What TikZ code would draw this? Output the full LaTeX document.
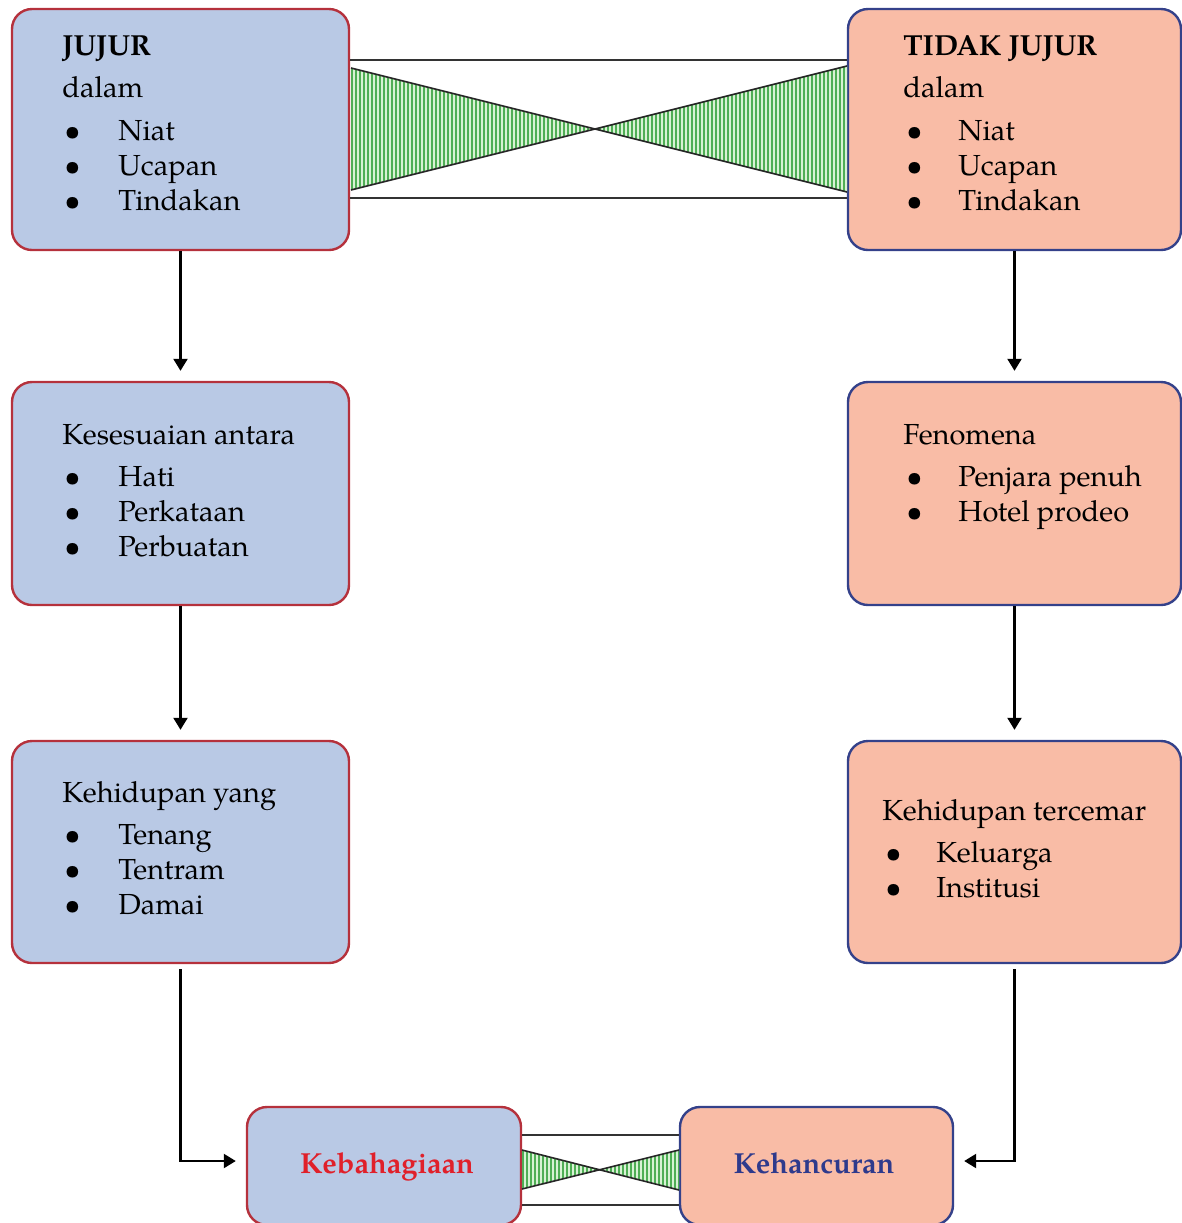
\documentclass[tikz,border=0pt]{standalone}
\usepackage{fontspec}
\setmainfont{TeX Gyre Pagella}
\usetikzlibrary{arrows.meta,calc}
\definecolor{bluefill}{HTML}{B9C9E5}
\definecolor{salmonfill}{HTML}{F9BCA6}
\definecolor{redline}{HTML}{B5313C}
\definecolor{blueline}{HTML}{34418A}
\definecolor{kebred}{HTML}{E0202A}
\definecolor{kehblue}{HTML}{2E3A8C}
\definecolor{stripebg}{HTML}{D8F2D4}
\definecolor{stripe}{HTML}{4FAE55}
\begin{document}
\begin{tikzpicture}[x=0.5pt,y=-0.5pt,
  boxL/.style={draw=redline, fill=bluefill, line width=1.2pt, rounded corners=10pt, inner sep=0pt},
  boxR/.style={draw=blueline, fill=salmonfill, line width=1.2pt, rounded corners=10pt, inner sep=0pt},
  txt/.style={anchor=base west, inner sep=0pt, font=\fontsize{14.5}{17}\selectfont},
  btxt/.style={txt, font=\fontsize{14.5}{17}\selectfont\bfseries},
  ctxt/.style={anchor=base, inner sep=0pt, font=\fontsize{14.5}{17}\selectfont\bfseries},
  arr/.style={line width=1.1pt, -{Triangle[width=7pt,length=6pt]}},
  conn/.style={line width=0.9pt, draw=black!80},
  diag/.style={line width=0.8pt, draw=black!85},
  stripes/.style={line width=1pt, draw=stripe}]
\useasboundingbox (0,0) rectangle (1182,1223);

% boxes
\node[boxL, minimum width=168.5pt, minimum height=120.5pt] (l1) at (180.5,129.5) {};
\node[boxL, minimum width=168.5pt, minimum height=111.5pt] (l2) at (180.5,493.5) {};
\node[boxL, minimum width=168.5pt, minimum height=111pt] (l3) at (180.5,852) {};
\node[boxR, minimum width=166.5pt, minimum height=120.5pt] (r1) at (1014.5,129.5) {};
\node[boxR, minimum width=166.5pt, minimum height=111.5pt] (r2) at (1014.5,493.5) {};
\node[boxR, minimum width=166.5pt, minimum height=111pt] (r3) at (1014.5,852) {};
\node[boxL, minimum width=137pt, minimum height=59pt] (keb) at (384,1166) {};
\node[boxR, minimum width=136.5pt, minimum height=59pt] (keh) at (816.5,1166) {};
\node[ctxt, text=kebred] (kebt) at (387,1173) {Kebahagiaan};
\node[ctxt, text=kehblue] (keht) at (814,1173) {Kehancuran};

% top connector
\draw[conn] (l1.east |- 0,60) -- (r1.west |- 0,60);
\draw[conn] (l1.east |- 0,198) -- (r1.west |- 0,198);
\coordinate (tA) at (351,68);
\coordinate (tB) at (351,190);
\coordinate (tC) at (595,129);
\coordinate (tD) at (847,66);
\coordinate (tE) at (847,192);
\begin{scope}
  \clip (tA) -- (tB) -- (tC) -- cycle (tD) -- (tE) -- (tC) -- cycle;
  \fill[stripebg] (349,60) rectangle (849,200);
  \foreach \x in {352,356,...,848} \draw[stripes] (\x,60) -- (\x,200);
\end{scope}
\draw[diag] (tA) -- (tE);
\draw[diag] (tB) -- (tD);

% bottom connector
\draw[conn] (keb.east |- 0,1135) -- (keh.west |- 0,1135);
\draw[conn] (keb.east |- 0,1205) -- (keh.west |- 0,1205);
\coordinate (bA) at (522,1150);
\coordinate (bB) at (522,1189);
\coordinate (bC) at (600,1170);
\coordinate (bD) at (679,1150);
\coordinate (bE) at (679,1190);
\begin{scope}
  \clip (bA) -- (bB) -- (bC) -- cycle (bD) -- (bE) -- (bC) -- cycle;
  \fill[stripebg] (520,1140) rectangle (682,1200);
  \foreach \x in {523,527,...,679} \draw[stripes] (\x,1140) -- (\x,1200);
\end{scope}
\draw[diag] (bA) -- (bE);
\draw[diag] (bB) -- (bD);

% arrows
\draw[arr, shorten >=5pt] (l1.south) -- (l2.north);
\draw[arr, shorten >=5pt] (l2.south) -- (l3.north);
\draw[arr, shorten >=5pt] (r1.south) -- (r2.north);
\draw[arr, shorten >=5pt] (r2.south) -- (r3.north);
\draw[arr, shorten <=2.5pt, shorten >=5pt] (l3.south) |- ([yshift=2.5pt]keb.west);
\draw[arr, shorten <=2.5pt, shorten >=5pt] (r3.south) |- ([yshift=2.5pt]keh.east);

% texts left 1
\node[btxt] (a0) at (62,55) {JUJUR};
\node[txt] (a1) at (62,97) {dalam};
\node[txt] (a2b) at (64,140) {\textbullet};
\node[txt] (a2) at (118,140) {Niat};
\node[txt] (a3b) at (64,175) {\textbullet};
\node[txt] (a3) at (118,175) {Ucapan};
\node[txt] (a4b) at (64,210) {\textbullet};
\node[txt] (a4) at (118,210) {Tindakan};

% texts left 2
\node[txt] (b1) at (62,444) {Kesesuaian antara};
\node[txt] (b2b) at (64,486) {\textbullet};
\node[txt] (b2) at (118,486) {Hati};
\node[txt] (b3b) at (64,521) {\textbullet};
\node[txt] (b3) at (118,521) {Perkataan};
\node[txt] (b4b) at (64,556) {\textbullet};
\node[txt] (b4) at (118,556) {Perbuatan};

% texts left 3
\node[txt] (c1) at (62,802) {Kehidupan yang};
\node[txt] (c2b) at (64,844) {\textbullet};
\node[txt] (c2) at (118,844) {Tenang};
\node[txt] (c3b) at (64,879) {\textbullet};
\node[txt] (c3) at (118,879) {Tentram};
\node[txt] (c4b) at (64,914) {\textbullet};
\node[txt] (c4) at (118,914) {Damai};

% texts right 1
\node[btxt] (d0) at (903,55) {TIDAK JUJUR};
\node[txt] (d1) at (903,97) {dalam};
\node[txt] (d2b) at (906,140) {\textbullet};
\node[txt] (d2) at (958,140) {Niat};
\node[txt] (d3b) at (906,175) {\textbullet};
\node[txt] (d3) at (958,175) {Ucapan};
\node[txt] (d4b) at (906,210) {\textbullet};
\node[txt] (d4) at (958,210) {Tindakan};

% texts right 2
\node[txt] (e1) at (903,444) {Fenomena};
\node[txt] (e2b) at (906,486) {\textbullet};
\node[txt] (e2) at (958,486) {Penjara penuh};
\node[txt] (e3b) at (906,521) {\textbullet};
\node[txt] (e3) at (958,521) {Hotel prodeo};

% texts right 3
\node[txt] (f1) at (882,820) {Kehidupan tercemar};
\node[txt] (f2b) at (885,862) {\textbullet};
\node[txt] (f2) at (936,862) {Keluarga};
\node[txt] (f3b) at (885,897) {\textbullet};
\node[txt] (f3) at (936,897) {Institusi};
\end{tikzpicture}
\end{document}
